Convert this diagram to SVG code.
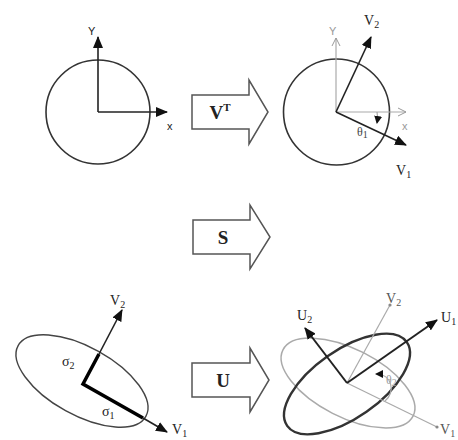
<svg xmlns="http://www.w3.org/2000/svg" width="458" height="440" viewBox="0 0 458 440">
<defs>
<marker id="ah" markerUnits="userSpaceOnUse" markerWidth="12" markerHeight="10" viewBox="0 0 12 10" refX="11" refY="5" orient="auto"><path d="M0,0 L12,5 L0,10 Z" fill="#111"/></marker>
<marker id="ahs" markerUnits="userSpaceOnUse" markerWidth="8" markerHeight="8" viewBox="0 0 8 8" refX="7" refY="4" orient="auto"><path d="M0,0 L8,4 L0,8 Z" fill="#111"/></marker>
<marker id="ao" markerUnits="userSpaceOnUse" markerWidth="10" markerHeight="10" viewBox="0 0 10 10" refX="9" refY="5" orient="auto"><path d="M1,1 L9,5 L1,9" fill="none" stroke="#999" stroke-width="1"/></marker>
<marker id="dot" markerUnits="userSpaceOnUse" markerWidth="4" markerHeight="4" viewBox="0 0 4 4" refX="2" refY="2"><circle cx="2" cy="2" r="1.6" fill="#888"/></marker>
</defs>
<style>
.circ{fill:none;stroke:#333;stroke-width:1.6}
.blk{fill:#fff;stroke:#555;stroke-width:1.5}
.vec{stroke:#222;stroke-width:1.6;fill:none}
.thick{stroke:#000;stroke-width:3.5;fill:none}
.gray{stroke:#aaa;stroke-width:1.2;fill:none}
.lab{font-family:"Liberation Serif",serif;font-size:14px;fill:#222}
.sub{font-size:10px}
.ax{font-family:"Liberation Sans",sans-serif;font-size:11px;fill:#222}
.big{font-family:"Liberation Serif",serif;font-size:19px;font-weight:bold;fill:#222;text-anchor:middle}
</style>
<rect width="458" height="440" fill="#fff"/>

<g id="circle-xy">
<circle class="circ" cx="98" cy="112" r="52"/>
<text class="ax" x="88" y="35">Y</text>
<text class="ax" x="167" y="130">x</text>
</g>

<g id="op-vt">
<polygon class="blk" points="192,95 249,95 249,80 268,112 249,144 249,129 192,129"/>
<text class="big" x="220" y="119">V<tspan font-size="11" dy="-8">T</tspan></text>
</g>

<g id="circle-v">
<circle class="circ" cx="336.5" cy="112" r="53"/>
<text class="ax" x="329" y="35" style="fill:#999">Y</text>
<text class="ax" x="402" y="130" style="fill:#999">x</text>
<text class="lab" x="364" y="25">V<tspan class="sub" dy="3">2</tspan></text>
<text class="lab" x="396" y="175">V<tspan class="sub" dy="3">1</tspan></text>
<text class="lab" x="357" y="136" style="font-size:12px;fill:#444">θ<tspan class="sub" dy="2">1</tspan></text>
</g>

<g id="op-s">
<polygon class="blk" points="193,220 250,220 250,205 270,237 250,269 250,254 193,254"/>
<text class="big" x="223" y="244">S</text>
</g>

<g id="ellipse-sigma">
<ellipse class="circ" cx="82" cy="381" rx="73" ry="34" transform="rotate(29 82 381)" style="stroke:#444;stroke-width:1.4"/>
<text class="lab" x="110" y="305">V<tspan class="sub" dy="3">2</tspan></text>
<text class="lab" x="172" y="434">V<tspan class="sub" dy="3">1</tspan></text>
<text class="lab" x="62" y="366">σ<tspan class="sub" dy="3">2</tspan></text>
<text class="lab" x="102" y="416">σ<tspan class="sub" dy="3">1</tspan></text>
</g>

<g id="op-u">
<polygon class="blk" points="192,363 250,363 250,348 269,380 250,412 250,397 192,397"/>
<text class="big" x="223" y="387">U</text>
</g>

<g id="ellipse-u">
<ellipse class="gray" cx="348" cy="383" rx="73" ry="34" transform="rotate(27 348 383)" style="stroke-width:1.5"/>
<ellipse class="circ" cx="347" cy="384" rx="73" ry="34" transform="rotate(-35 347 384)" style="stroke:#333;stroke-width:2.4"/>
<text class="lab" x="297" y="320">U<tspan class="sub" dy="3">2</tspan></text>
<text class="lab" x="441" y="322">U<tspan class="sub" dy="3">1</tspan></text>
<text class="lab" x="386" y="303" style="fill:#555">V<tspan class="sub" dy="3">2</tspan></text>
<text class="lab" x="440" y="434" style="fill:#555">V<tspan class="sub" dy="3">1</tspan></text>
<text class="lab" x="386" y="384" style="font-size:12px;fill:#999">θ<tspan class="sub" dy="2">2</tspan></text>
</g>

<g id="connectors">
<line class="vec" x1="98" y1="112" x2="98" y2="37" marker-end="url(#ah)"/>
<line class="vec" x1="98" y1="112" x2="167" y2="112" marker-end="url(#ah)"/>

<line class="gray" x1="336" y1="112" x2="336" y2="38" marker-end="url(#ao)"/>
<line class="gray" x1="336" y1="112" x2="406" y2="112" marker-end="url(#ao)"/>
<line class="vec" x1="336" y1="112" x2="371" y2="37" marker-end="url(#ah)"/>
<line class="vec" x1="336" y1="112" x2="406" y2="145" marker-end="url(#ah)"/>
<path d="M377,112 Q378,117 377,123" fill="none" stroke="#999" stroke-width="1" marker-end="url(#ahs)"/>

<polyline class="thick" points="99,354 83,384 143,418"/>
<line class="vec" x1="99" y1="354" x2="122" y2="310" marker-end="url(#ah)"/>
<line class="vec" x1="143" y1="418" x2="167" y2="432" marker-end="url(#ah)"/>

<line class="gray" x1="347" y1="383" x2="390" y2="305" marker-end="url(#dot)"/>
<line class="gray" x1="347" y1="383" x2="437" y2="427" marker-end="url(#dot)"/>
<line class="vec" x1="347" y1="383" x2="437" y2="320" marker-end="url(#ah)" style="stroke-width:2"/>
<line class="vec" x1="347" y1="383" x2="305" y2="328" marker-end="url(#ah)" style="stroke-width:2"/>
<path d="M385,401 C396,392 392,374 376,374" fill="none" stroke="#aaa" stroke-width="1.2" marker-end="url(#ahs)"/>
</g>
</svg>
